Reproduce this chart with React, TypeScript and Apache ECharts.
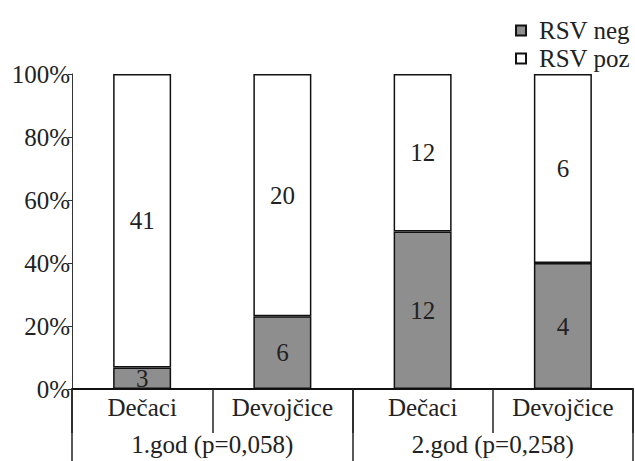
import React, { useEffect, useRef } from "react";
import * as echarts from "echarts";

const categories = ["Dečaci", "Devojčice", "Dečaci", "Devojčice"];
const groups = ["1.god (p=0,058)", "2.god (p=0,258)"];
const rsvNeg = [3, 6, 12, 4];
const rsvPoz = [41, 20, 12, 6];
const yTicks = [0, 20, 40, 60, 80, 100];

const FONT = "Liberation Serif";
const FS = 25;

export default function App() {
  const ref = useRef<HTMLDivElement>(null);
  useEffect(() => {
    if (!ref.current) return;
    const chart = echarts.init(ref.current, undefined, { renderer: "svg" });
    const totals = rsvNeg.map((v, i) => v + rsvPoz[i]);
    const negPct = rsvNeg.map((v, i) => ({ value: (v / totals[i]) * 100, count: v }));
    const pozPct = rsvPoz.map((v, i) => ({ value: (v / totals[i]) * 100, count: v }));
    const lbl = {
      show: true,
      position: "inside",
      fontFamily: FONT,
      fontSize: FS,
      color: "#222",
      formatter: (p: any) => String(p.data.count),
    };
    chart.setOption({
      animation: false,
      textStyle: { fontFamily: FONT },
      grid: { left: 72, right: 2, top: 74, bottom: 72, containLabel: false },
      legend: {
        orient: "vertical",
        right: 0,
        top: 13,
        icon: "rect",
        itemWidth: 10,
        itemHeight: 10,
        itemGap: 3,
        data: ["RSV neg", "RSV poz"],
        textStyle: { fontFamily: FONT, fontSize: FS, color: "#222", padding: [0, 0, 0, 8] },
      },
      xAxis: [
        {
          type: "category",
          data: categories,
          position: "bottom",
          axisLine: { show: true, lineStyle: { color: "#111", width: 2 } },
          axisTick: { show: true, length: 44, lineStyle: { color: "#222", width: 1.5 } },
          axisLabel: { fontFamily: FONT, fontSize: FS, color: "#222", margin: 6 },
        },
        {
          type: "category",
          data: groups,
          position: "bottom",
          axisLine: { show: false },
          axisTick: { show: true, length: 72, lineStyle: { color: "#222", width: 1.5 } },
          axisLabel: { fontFamily: FONT, fontSize: FS, color: "#222", margin: 43 },
        },
      ],
      yAxis: {
        type: "value",
        min: 0,
        max: 100,
        interval: 20,
        splitLine: { show: false },
        axisLine: { show: true, lineStyle: { color: "#333", width: 1 } },
        axisTick: { show: true, length: 4, lineStyle: { color: "#333" } },
        axisLabel: {
          fontFamily: FONT,
          fontSize: FS,
          color: "#222",
          margin: 2,
          formatter: (v: number) => (yTicks.includes(v) ? v + "%" : ""),
        },
      },
      series: [
        {
          name: "RSV neg",
          type: "bar",
          stack: "a",
          barWidth: 58,
          data: negPct,
          itemStyle: { color: "#8e8e8e", borderColor: "#111", borderWidth: 1.5 },
          label: lbl,
        },
        {
          name: "RSV poz",
          type: "bar",
          stack: "a",
          barWidth: 58,
          data: pozPct,
          itemStyle: { color: "#ffffff", borderColor: "#111", borderWidth: 1.5 },
          label: lbl,
        },
      ],
    });
    return () => chart.dispose();
  }, []);
  return <div ref={ref} style={{ width: 635, height: 461, position: "absolute", left: 0, top: 0, background: "#fff" }} />;
}
